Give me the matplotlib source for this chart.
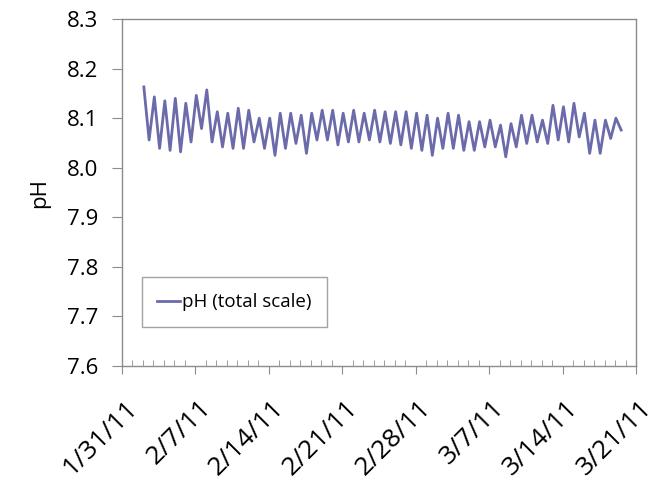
import matplotlib
matplotlib.use("Agg")
from matplotlib import pyplot as plt
import matplotlib.dates as mdates
import matplotlib.transforms as mtransforms
from matplotlib.ticker import FuncFormatter
import pandas as pd

# pH: alternating daily highs and lows, one point every 12 h
ph = [8.163, 8.056, 8.143, 8.039, 8.135, 8.035, 8.140, 8.032, 8.130, 8.052,
      8.146, 8.079, 8.157, 8.052, 8.113, 8.042, 8.110, 8.039, 8.120, 8.039,
      8.116, 8.052, 8.100, 8.039, 8.100, 8.025, 8.110, 8.039, 8.110, 8.049,
      8.106, 8.029, 8.110, 8.056, 8.116, 8.056, 8.116, 8.046, 8.110, 8.052,
      8.116, 8.052, 8.110, 8.056, 8.116, 8.052, 8.113, 8.049, 8.113, 8.046,
      8.113, 8.039, 8.110, 8.035, 8.106, 8.025, 8.100, 8.039, 8.110, 8.039,
      8.106, 8.035, 8.093, 8.035, 8.093, 8.042, 8.096, 8.042, 8.086, 8.022,
      8.089, 8.042, 8.106, 8.049, 8.106, 8.052, 8.096, 8.049, 8.126, 8.056,
      8.123, 8.052, 8.130, 8.062, 8.110, 8.029, 8.096, 8.029, 8.096, 8.059,
      8.100, 8.076]
times = pd.date_range("2011-02-02 02:00", periods=len(ph), freq="12h")

x_start = pd.Timestamp("2011-01-31")
x_end = pd.Timestamp("2011-03-21")
y_ticks = [7.6, 7.7, 7.8, 7.9, 8.0, 8.1, 8.2, 8.3]

plt.rcParams["font.family"] = ["Open Sans", "DejaVu Sans"]
grey = "#8c8c8c"

fig = plt.figure(figsize=(6.58, 4.88), dpi=100)
ax = fig.add_axes([0.1854, 0.25, 0.7812, 0.711])

ax.plot(times, ph, color="#6b6bab", linewidth=2.0, solid_joinstyle="round",
        label="pH (total scale)")

ax.set_xlim(x_start, x_end)
ax.set_ylim(7.6, 8.3)
ax.set_yticks(y_ticks)
ax.yaxis.set_major_formatter(FuncFormatter(lambda v, p: f"{v:.1f}"))


def date_label(v, p):
    d = mdates.num2date(v)
    return f"{d.month}/{d.day}/{d:%y}"


ax.xaxis.set_major_locator(mdates.WeekdayLocator(byweekday=mdates.MO))
ax.xaxis.set_minor_locator(mdates.DayLocator())
ax.xaxis.set_major_formatter(FuncFormatter(date_label))

for s in ax.spines.values():
    s.set_color(grey)
    s.set_linewidth(1.0)

ax.tick_params(axis="y", which="major", direction="out", length=7, color=grey,
               labelsize=16, pad=10)
ax.tick_params(axis="x", which="major", direction="out", length=6, color=grey,
               labelsize=19, pad=15)
ax.tick_params(axis="x", which="minor", direction="in", length=4, color=grey)
shift = mtransforms.ScaledTranslation(3 / 100, 0, fig.dpi_scale_trans)
for lbl in ax.get_xticklabels():
    lbl.set_rotation(45)
    lbl.set_ha("right")
    lbl.set_rotation_mode("anchor")
    lbl.set_transform(lbl.get_transform() + shift)

ax.set_ylabel("pH", fontsize=16, labelpad=12)

ax.legend(loc="lower left", bbox_to_anchor=(0.038, 0.112), fontsize=13.5,
          frameon=True, fancybox=False, edgecolor=grey, handlelength=1.2,
          handletextpad=0.1, borderpad=0.85, borderaxespad=0)

fig.savefig("out.png", dpi=100, facecolor="white")
